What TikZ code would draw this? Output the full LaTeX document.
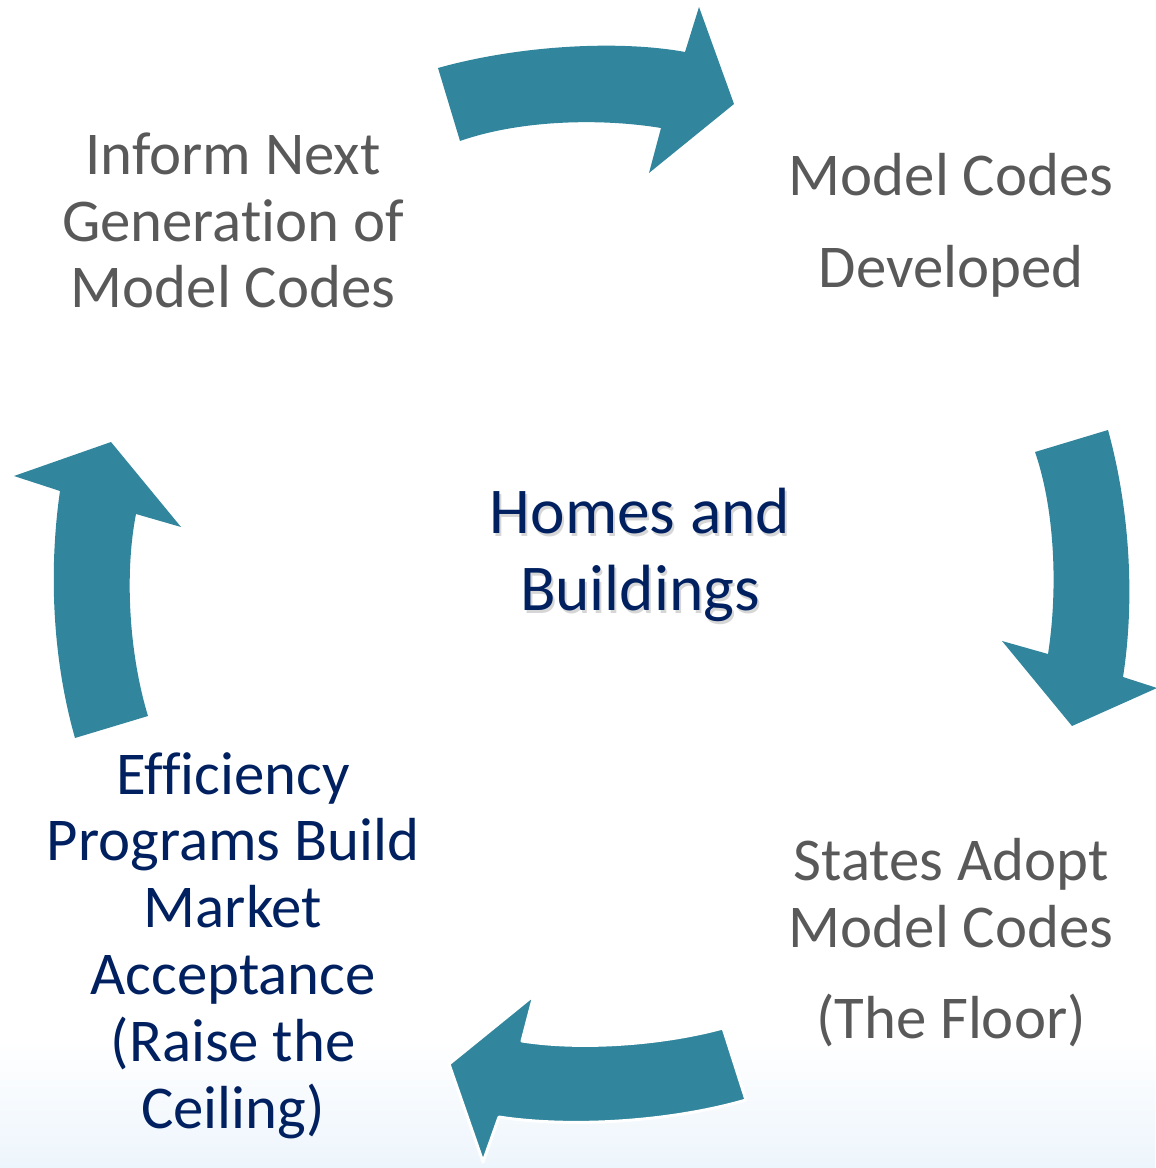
\documentclass[tikz,border=0pt]{standalone}
\usepackage{fontspec}
\setmainfont{Carlito}[Ligatures=NoCommon]
\usepackage{tikz}
\usetikzlibrary{positioning,calc,shapes}

\definecolor{arrowteal}{HTML}{31859C}
\definecolor{greytext}{HTML}{595959}
\definecolor{navytext}{HTML}{002060}
\definecolor{bgblue}{HTML}{EDF5FC}

\begin{document}
\begin{tikzpicture}%
	[x=0.02cm, y=-0.02cm,
	cyclearrow/.style = {fill=arrowteal, draw=none},
	stage/.style = {align=center, anchor=base, inner sep=0pt, text=greytext, font=\fontsize{34.6}{38}\selectfont},
	program/.style = {stage, text=navytext},
	hub/.style = {align=center, anchor=base, inner sep=0pt, text=navytext, font=\fontsize{37.2}{43.7}\selectfont}]
	\useasboundingbox (0,0) rectangle (1155,1168);
	\shade[top color=white, bottom color=bgblue] (0,1040) rectangle (1155,1168);
	
	% arrows of the cycle
	\fill[cyclearrow] (438,68) .. controls (520,45) and (620,40) .. (685,52) -- (699,7) -- (734,104)
		-- (649,173) -- (661,128) .. controls (600,118) and (520,120) .. (460,141) -- cycle;
	\fill[cyclearrow] (1035,452) -- (1108,430) .. controls (1130,510) and (1135,600) .. (1123,677)
		-- (1157,688) -- (1072,726) -- (1002,641) -- (1048,654) .. controls (1058,590) and (1055,510) .. (1035,452) -- cycle;
	\filldraw[cyclearrow, draw=white, line width=1.7pt, line join=round] (723,1028) .. controls (660,1045) and (580,1050) .. (522,1041)
		-- (534,995) -- (449,1064) -- (483,1162) -- (499,1117) .. controls (570,1128) and (670,1122) .. (746,1100) -- cycle;
	\fill[cyclearrow] (75,738) -- (148,716) .. controls (128,650) and (125,570) .. (136,514) -- (181,527)
		-- (111,442) -- (14,476) -- (60,491) .. controls (50,560) and (50,650) .. (75,738) -- cycle;
	
	% stages (base = last line)
	\node[stage] (inform) at (233,308) {Inform Next\\Generation of\\Model Codes};
	\node[stage] (developed) at (951,288) {Model Codes\\[14.7pt]Developed};
	\node[stage] (adopt) at (951,1038) {States Adopt\\Model Codes\\[13.6pt](The Floor)};
	\node[program] (efficiency) at (233,1128) {Efficiency\\Programs Build\\Market\\Acceptance\\(Raise the\\Ceiling)};
	
	\node[hub, text=black, opacity=0.16] (hubshadow) at (642,613) {Homes and\\Buildings};
	\node[hub] (homes) at (640,610) {Homes and\\Buildings};
	
\end{tikzpicture}
\end{document}
